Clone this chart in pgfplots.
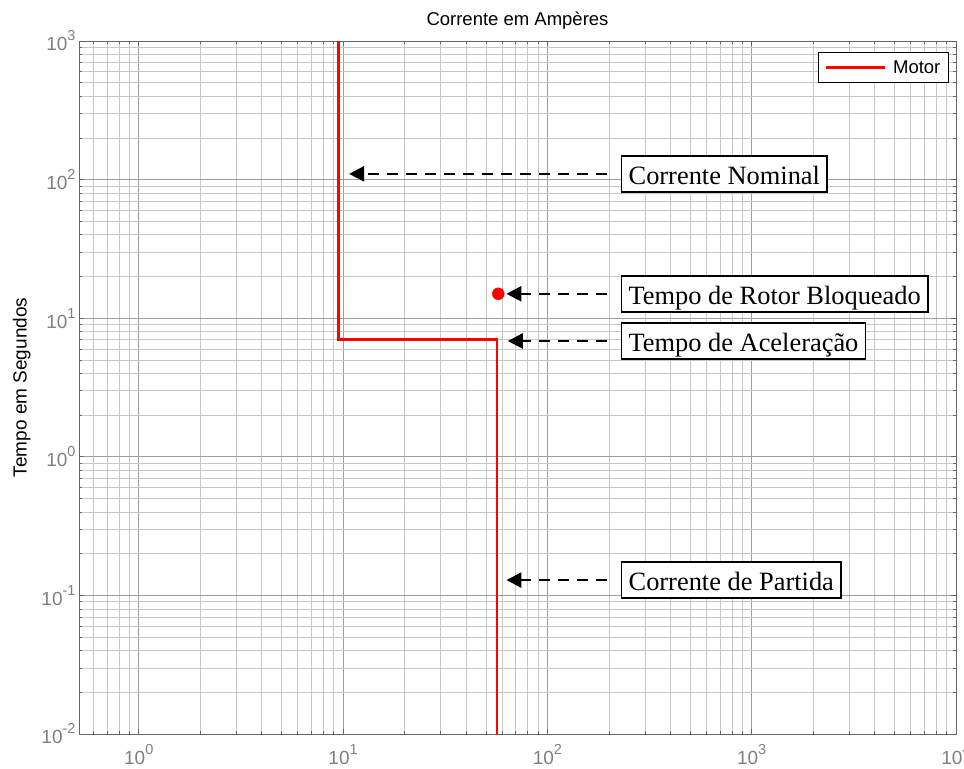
\documentclass[border=0pt]{standalone}
\usepackage{pgfplots}
\pgfplotsset{compat=1.18}
\usepackage{fontspec}
\setmainfont{Liberation Sans}
\newfontfamily\timesfont{Liberation Serif}
\usetikzlibrary{arrows.meta,calc}
\newcommand\tl[1]{10\raisebox{10pt}{\fontsize{14.5}{14.5}\selectfont #1}}
\tikzset{
  anno/.style={draw=black, line width=1.5pt, fill=white,
    font=\timesfont\fontsize{26.4}{30}\selectfont,
    inner xsep=7pt, inner ysep=3pt, text height=25.5pt, text depth=4.5pt, anchor=west},
  arr/.style={black, line width=2.2pt, dash pattern=on 11pt off 8pt,
    -{Triangle[length=15pt,width=15pt]}},
}
\begin{document}
\begin{tikzpicture}
\begin{axis}[
  xmode=log, ymode=log,
  scale only axis, width=877pt, height=693pt,
  xmin=0.51, xmax=10000, ymin=0.01, ymax=1000,
  xtick={1,10,100,1000,10000},
  xticklabels={\tl{0},\tl{1},\tl{2},\tl{3},\tl{4}},
  ytick={0.01,0.1,1,10,100,1000},
  yticklabels={\tl{-2},\tl{-1},\tl{0},\tl{1},\tl{2},\tl{3}},
  minor xtick={0.6,0.7,0.8,0.9,2,3,4,5,6,7,8,9,20,30,40,50,60,70,80,90,200,300,400,500,600,700,800,900,2000,3000,4000,5000,6000,7000,8000,9000},
  minor ytick={0.02,0.03,0.04,0.05,0.06,0.07,0.08,0.09,0.2,0.3,0.4,0.5,0.6,0.7,0.8,0.9,2,3,4,5,6,7,8,9,20,30,40,50,60,70,80,90,200,300,400,500,600,700,800,900},
  grid=both,
  major grid style={draw=black!38, line width=0.6pt},
  minor grid style={draw=black!22, line width=0.6pt},
  tick align=inside,
  major tick length=5pt, minor tick length=3pt,
  tick style={black!60, line width=0.6pt},
  axis line style={black!60, line width=0.9pt},
  tick label style={font=\fontsize{19}{20}\selectfont, text=black!50},
  xticklabel style={yshift=-7pt},
  title={Corrente em Ampères},
  title style={font=\fontsize{18.5}{22}\selectfont, at={(axis description cs:0.5,1)}, anchor=base, yshift=9.5pt},
  ylabel={Tempo em Segundos},
  ylabel style={font=\fontsize{19}{22}\selectfont, at={([xshift=-45pt]axis description cs:0,0.5)}, anchor=south},
  clip=false,
  legend image code/.code={\draw[#1] (0pt,0pt) -- (59pt,0pt);},
  legend style={at={(1,1)}, anchor=north east, xshift=-7pt, yshift=-11pt,
    draw=black, line width=1.2pt, fill=white,
    font=\fontsize{18.5}{20}\selectfont, inner xsep=6pt, inner ysep=6pt,
    /tikz/every odd column/.append style={column sep=5pt}},
]
\addplot[red, line width=2.8pt, line join=miter] coordinates {(9.53,1000) (9.53,7.04) (56.7,7.04) (56.7,0.01)};
\addlegendentry{Motor}
\addplot[only marks, mark=*, mark size=6pt, red, forget plot] coordinates {(57.5,15)};

\draw[arr] (axis cs:195,110) -- (axis cs:10.7,110);
\node[anno] at (axis cs:229,110) {Corrente Nominal};
\draw[arr] (axis cs:195,15) -- (axis cs:63,15);
\node[anno] at (axis cs:229,15) {Tempo de Rotor Bloqueado};
\draw[arr] (axis cs:195,6.85) -- (axis cs:64,6.85);
\node[anno] at (axis cs:229,6.85) {Tempo de Aceleração};
\draw[arr] (axis cs:195,0.129) -- (axis cs:63,0.129);
\node[anno] at (axis cs:229,0.129) {Corrente de Partida};
\end{axis}
\pgfresetboundingbox
\path[use as bounding box] ($(current axis.south west)+(-79pt,-35pt)$) rectangle ($(current axis.north east)+(8pt,41pt)$);
\end{tikzpicture}
\end{document}
